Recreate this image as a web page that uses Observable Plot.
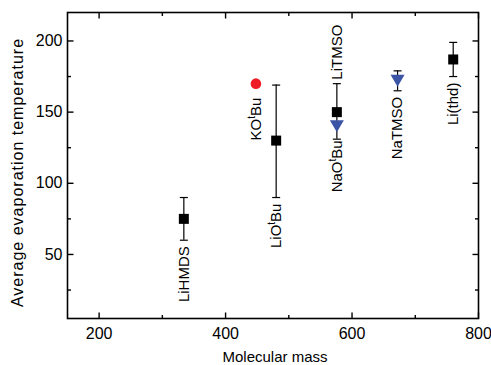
<!DOCTYPE html>
<html><head><meta charset="utf-8">
<script src="https://cdn.jsdelivr.net/npm/d3@7"></script>
<script src="https://cdn.jsdelivr.net/npm/@observablehq/plot@0.6"></script>
<style>body{margin:0;background:#fff;}</style>
</head><body><div id="chart"></div>
<script>
// Data
const names = ["LiHMDS", "KOᵗBu", "LiOᵗBu", "LiTMSO", "NaOᵗBu", "NaTMSO", "Li(thd)"];
const mass = [334, 448, 480, 576, 576, 672, 760];
const temp = [75, 170, 130, 150, 140, 172, 187];
const errUp = [15, 0, 39, 20, 0, 7, 12];
const errDown = [15, 0, 40, 19, 0, 7, 12];
const series = ["Li", "K", "Li", "Li", "Na", "Na", "Li"];
const labelSide = ["below", "below", "below", "above", "below", "below", "below"];
const xMajor = [200, 400, 600, 800];
const xMinor = [300, 500, 700];
const yMajor = [50, 100, 150, 200];
const yMinor = [25, 75, 125, 175];

const rows = names.map((name, i) => ({
  name, mass: mass[i], temp: temp[i],
  hi: temp[i] + errUp[i], lo: temp[i] - errDown[i],
  hasErr: errUp[i] > 0 || errDown[i] > 0,
  series: series[i], side: labelSide[i]
}));

const seg = (x1, y1, x2, y2) => ({draw(c) { c.moveTo(x1, y1); c.lineTo(x2, y2); }});
const square = (s) => ({draw(c) { c.moveTo(-s/2, -s/2); c.lineTo(s/2, -s/2); c.lineTo(s/2, s/2); c.lineTo(-s/2, s/2); c.closePath(); }});
const triDown = (w, h) => ({draw(c) { c.moveTo(-w/2, -h/2); c.lineTo(w/2, -h/2); c.lineTo(0, h/2); c.closePath(); }});
const cap = seg(-4, 0, 4, 0);

const RED = "#ee1c25", BLUE = "#3b54a5";
const tickStyle = {stroke: "black", strokeWidth: 1.4, fill: "none"};

const chart = Plot.plot({
  width: 491,
  height: 365,
  marginLeft: 67,
  marginRight: 13,
  marginTop: 12,
  marginBottom: 47,
  style: {fontFamily: "'Liberation Sans', Arial, sans-serif", background: "white", color: "black"},
  x: {domain: [150, 800]},
  y: {domain: [5, 220]},
  marks: [
    // tick marks, inward on all sides
    Plot.dot(xMajor, {x: d => d, frameAnchor: "bottom", symbol: seg(0, 0, 0, -6), ...tickStyle}),
    Plot.dot(xMinor, {x: d => d, frameAnchor: "bottom", symbol: seg(0, 0, 0, -3.5), ...tickStyle}),
    Plot.dot(xMajor, {x: d => d, frameAnchor: "top", symbol: seg(0, 0, 0, 6), ...tickStyle}),
    Plot.dot(xMinor, {x: d => d, frameAnchor: "top", symbol: seg(0, 0, 0, 3.5), ...tickStyle}),
    Plot.dot(yMajor, {y: d => d, frameAnchor: "left", symbol: seg(0, 0, 6, 0), ...tickStyle}),
    Plot.dot(yMinor, {y: d => d, frameAnchor: "left", symbol: seg(0, 0, 3.5, 0), ...tickStyle}),
    Plot.dot(yMajor, {y: d => d, frameAnchor: "right", symbol: seg(0, 0, -6, 0), ...tickStyle}),
    Plot.dot(yMinor, {y: d => d, frameAnchor: "right", symbol: seg(0, 0, -3.5, 0), ...tickStyle}),
    Plot.axisX({ticks: xMajor, tickSize: 0, tickPadding: 9, fontSize: 16, label: null}),
    Plot.axisY({ticks: yMajor, tickSize: 0, tickPadding: 5, fontSize: 16, label: null}),
    Plot.frame({stroke: "black", strokeWidth: 1.6}),
    // error bars
    Plot.ruleX(rows.filter(d => d.hasErr), {x: "mass", y1: "lo", y2: "hi", stroke: "black", strokeWidth: 1.2}),
    Plot.dot(rows.filter(d => d.hasErr), {x: "mass", y: "lo", symbol: cap, stroke: "black", strokeWidth: 1.2, fill: "none"}),
    Plot.dot(rows.filter(d => d.hasErr), {x: "mass", y: "hi", symbol: cap, stroke: "black", strokeWidth: 1.2, fill: "none"}),
    // markers
    Plot.dot(rows.filter(d => d.series === "Li"), {x: "mass", y: "temp", symbol: square(10), fill: "black", stroke: "none"}),
    Plot.dot(rows.filter(d => d.series === "K"), {x: "mass", y: "temp", r: 5.3, fill: RED, stroke: "none"}),
    Plot.dot(rows.filter(d => d.series === "Na"), {x: "mass", y: "temp", symbol: triDown(14, 12), fill: BLUE, stroke: "none"}),
    // labels
    Plot.text(rows.filter(d => d.side === "below"), {
      x: "mass", y: "lo", text: "name", rotate: -90, textAnchor: "end", lineAnchor: "middle",
      fontSize: 15, fill: "black"
    }),
    Plot.text(rows.filter(d => d.side === "above"), {
      x: "mass", y: "hi", text: "name", rotate: -90, textAnchor: "start", lineAnchor: "middle",
      dy: -4, fontSize: 15, fill: "black"
    }),
    // axis titles
    Plot.text(["Molecular mass"], {frameAnchor: "bottom", text: d => d, textAnchor: "middle", lineAnchor: "middle", dy: 38.5, dx: 2, fontSize: 15}),
    Plot.text(["Average evaporation temperature"], {frameAnchor: "left", text: d => d, rotate: -90, textAnchor: "middle", lineAnchor: "middle", dx: -50, dy: 7, fontSize: 16})
  ]
});
document.getElementById("chart").appendChild(chart);

const svg = d3.select(chart);
svg.selectAll("text").each(function() {
  if (this.textContent === "Average evaporation temperature") {
    this.style.letterSpacing = "1px";
  }
});
// shift below-labels: 6px under error caps, 14px under bare markers; superscript t
svg.selectAll("text").filter(function() { return names.includes(this.textContent); }).each(function() {
  const row = rows.find(r => r.name === this.textContent);
  if (row.side === "below") {
    const off = row.hasErr ? 6 : 14;
    const tr = this.getAttribute("transform");
    this.setAttribute("transform", tr.replace(/translate\(([^,]+),([^)]+)\)/, (m, a, b) => `translate(${a},${+b + off})`));
  }
  const parts = this.textContent.split("ᵗ");
  if (parts.length === 2) {
    this.textContent = "";
    this.appendChild(document.createTextNode(parts[0]));
    const sup = document.createElementNS("http://www.w3.org/2000/svg", "tspan");
    sup.setAttribute("dy", "-6");
    sup.setAttribute("font-size", "10");
    sup.textContent = "t";
    this.appendChild(sup);
    const rest = document.createElementNS("http://www.w3.org/2000/svg", "tspan");
    rest.setAttribute("dy", "6");
    rest.textContent = parts[1];
    this.appendChild(rest);
  }
});
</script>
</body></html>
